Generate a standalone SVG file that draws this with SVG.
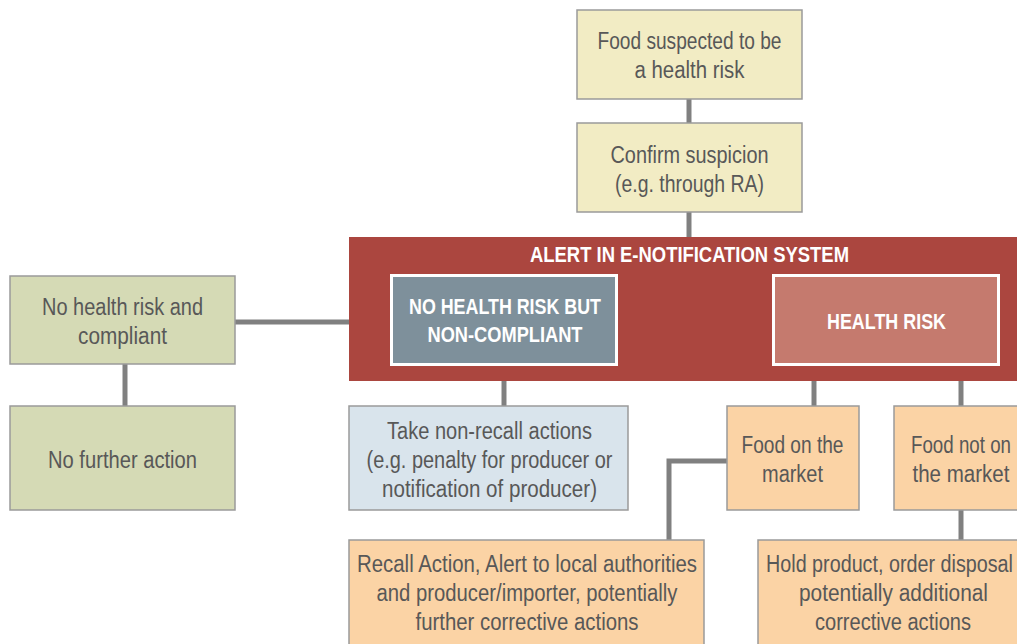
<svg xmlns="http://www.w3.org/2000/svg" width="1017" height="644" viewBox="0 0 1017 644">
  <style>
    .box { stroke: #9a9a9a; stroke-width: 1.5; }
    .yellow { fill: #f2ecc4; }
    .green { fill: #d5dab5; }
    .blue { fill: #d9e4ec; }
    .peach { fill: #fbd3a5; }
    .inner { stroke: #ffffff; stroke-width: 3; }
    .t { font-family: "Liberation Sans Narrow", "Liberation Sans", Arial, sans-serif; font-size: 23px; fill: #585858; text-anchor: middle; }
    .h { font-family: "Liberation Sans Narrow", "Liberation Sans", Arial, sans-serif; font-size: 22px; font-weight: bold; fill: #ffffff; text-anchor: middle; }
    .c { stroke: #808080; stroke-width: 5; fill: none; }
  </style>

  <!-- connectors -->
  <g id="connectors">
    <line class="c" x1="689" y1="99" x2="689" y2="124"/>
    <line class="c" x1="689" y1="212" x2="689" y2="238"/>
    <line class="c" x1="235" y1="322" x2="350" y2="322"/>
    <line class="c" x1="125" y1="364" x2="125" y2="407"/>
    <line class="c" x1="504" y1="366" x2="504" y2="407"/>
    <line class="c" x1="814" y1="366" x2="814" y2="407"/>
    <line class="c" x1="961" y1="366" x2="961" y2="407"/>
    <polyline class="c" points="727,461 669,461 669,541"/>
    <line class="c" x1="961" y1="510" x2="961" y2="541"/>
  </g>

  <g id="suspected">
    <rect class="box yellow" x="577" y="10" width="225" height="89"/>
    <text class="t" x="689.5" y="49" textLength="184" lengthAdjust="spacingAndGlyphs">Food suspected to be</text>
    <text class="t" x="689.5" y="78" textLength="110" lengthAdjust="spacingAndGlyphs">a health risk</text>
  </g>

  <g id="confirm">
    <rect class="box yellow" x="577" y="123" width="225" height="89"/>
    <text class="t" x="689.5" y="163" textLength="158" lengthAdjust="spacingAndGlyphs">Confirm suspicion</text>
    <text class="t" x="689.5" y="192" textLength="149" lengthAdjust="spacingAndGlyphs">(e.g. through RA)</text>
  </g>

  <g id="alert-system">
    <rect x="349" y="237" width="668" height="144" fill="#ab463f"/>
    <text class="h" x="689.5" y="262" textLength="319" lengthAdjust="spacingAndGlyphs">ALERT IN E-NOTIFICATION SYSTEM</text>
  </g>

  <g id="non-compliant">
    <rect class="inner" x="391.5" y="275.5" width="225" height="89" fill="#7e909b"/>
    <text class="h" x="505" y="314" textLength="192" lengthAdjust="spacingAndGlyphs">NO HEALTH RISK BUT</text>
    <text class="h" x="505" y="342" textLength="155" lengthAdjust="spacingAndGlyphs">NON-COMPLIANT</text>
  </g>

  <g id="health-risk">
    <rect class="inner" x="773.5" y="275.5" width="225" height="89" fill="#c57a6e"/>
    <text class="h" x="886.5" y="329" textLength="119" lengthAdjust="spacingAndGlyphs">HEALTH RISK</text>
  </g>

  <g id="compliant">
    <rect class="box green" x="10" y="276" width="225" height="88"/>
    <text class="t" x="122.5" y="315" textLength="161" lengthAdjust="spacingAndGlyphs">No health risk and</text>
    <text class="t" x="122.5" y="344" textLength="89" lengthAdjust="spacingAndGlyphs">compliant</text>
  </g>

  <g id="no-further-action">
    <rect class="box green" x="10" y="406" width="225" height="104"/>
    <text class="t" x="122.5" y="468" textLength="149" lengthAdjust="spacingAndGlyphs">No further action</text>
  </g>

  <g id="non-recall">
    <rect class="box blue" x="349" y="406" width="279" height="104"/>
    <text class="t" x="489.5" y="439" textLength="205" lengthAdjust="spacingAndGlyphs">Take non-recall actions</text>
    <text class="t" x="489.5" y="468" textLength="246" lengthAdjust="spacingAndGlyphs">(e.g. penalty for producer or</text>
    <text class="t" x="489.5" y="497" textLength="215" lengthAdjust="spacingAndGlyphs">notification of producer)</text>
  </g>

  <g id="on-market">
    <rect class="box peach" x="727" y="406" width="132" height="104"/>
    <text class="t" x="792.5" y="453" textLength="102" lengthAdjust="spacingAndGlyphs">Food on the</text>
    <text class="t" x="792.5" y="482" textLength="61" lengthAdjust="spacingAndGlyphs">market</text>
  </g>

  <g id="not-on-market">
    <rect class="box peach" x="894" y="406" width="130" height="104"/>
    <text class="t" x="961" y="453" textLength="100" lengthAdjust="spacingAndGlyphs">Food not on</text>
    <text class="t" x="961" y="482" textLength="97" lengthAdjust="spacingAndGlyphs">the market</text>
  </g>

  <g id="recall">
    <rect class="box peach" x="349" y="540" width="355" height="110"/>
    <text class="t" x="527" y="572" textLength="340" lengthAdjust="spacingAndGlyphs">Recall Action, Alert to local authorities</text>
    <text class="t" x="527" y="601" textLength="301" lengthAdjust="spacingAndGlyphs">and producer/importer, potentially</text>
    <text class="t" x="527" y="630" textLength="223" lengthAdjust="spacingAndGlyphs">further corrective actions</text>
  </g>

  <g id="hold-product">
    <rect class="box peach" x="758" y="540" width="270" height="110"/>
    <text class="t" x="889.5" y="572" textLength="247" lengthAdjust="spacingAndGlyphs">Hold product, order disposal</text>
    <text class="t" x="893.5" y="601" textLength="189" lengthAdjust="spacingAndGlyphs">potentially additional</text>
    <text class="t" x="893" y="630" textLength="156" lengthAdjust="spacingAndGlyphs">corrective actions</text>
  </g>
</svg>
